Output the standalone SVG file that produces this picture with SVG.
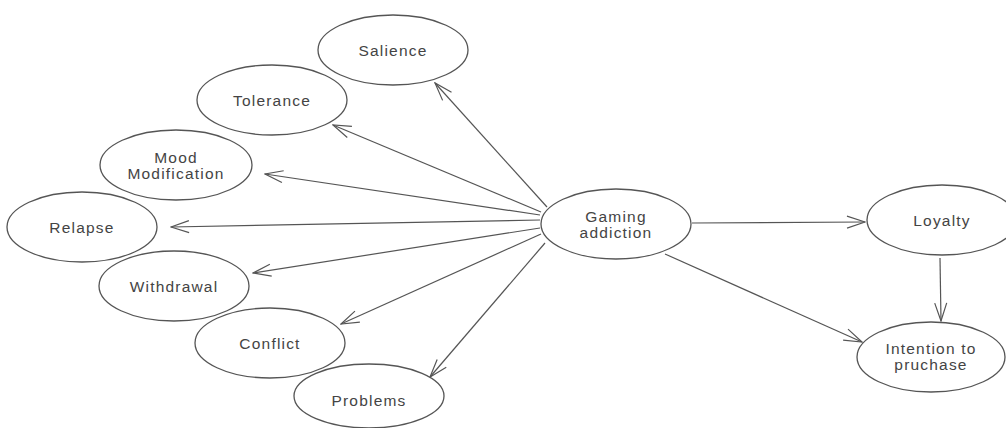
<svg xmlns="http://www.w3.org/2000/svg" width="1006" height="428" viewBox="0 0 1006 428">
<style>
.n ellipse{fill:#fff;stroke:#555;stroke-width:1.3}
.n text{font-family:"Liberation Sans",Arial,sans-serif;font-size:15.5px;letter-spacing:1.2px;fill:#444;text-anchor:middle}
.c line{stroke:#555;stroke-width:1.2;marker-end:url(#ah)}
</style>
<defs>
<marker id="ah" viewBox="0 0 20 14" refX="19" refY="7" markerWidth="20" markerHeight="14" markerUnits="userSpaceOnUse" orient="auto">
<path d="M1,1 L19,7 L1,13" fill="none" stroke="#555" stroke-width="1.2"/>
</marker>
</defs>
<rect width="1006" height="428" fill="#fff"/>
<g class="c">
<line x1="547" y1="207" x2="435" y2="83"/>
<line x1="541" y1="212" x2="333" y2="125"/>
<line x1="540" y1="215" x2="265" y2="174"/>
<line x1="540" y1="220" x2="171" y2="227"/>
<line x1="540" y1="228" x2="253" y2="273"/>
<line x1="541" y1="234" x2="341" y2="324"/>
<line x1="545" y1="243" x2="430" y2="377"/>
<line x1="692" y1="223" x2="865" y2="222"/>
<line x1="665" y1="254" x2="862" y2="342"/>
<line x1="940" y1="258" x2="941" y2="321"/>
</g>
<g id="salience" class="n"><ellipse cx="393" cy="50" rx="75" ry="35"/><text x="393" y="56">Salience</text></g>
<g id="tolerance" class="n"><ellipse cx="272" cy="100" rx="75" ry="35"/><text x="272" y="106">Tolerance</text></g>
<g id="mood" class="n"><ellipse cx="176" cy="165" rx="76" ry="35"/><text x="176" y="163">Mood</text><text x="176" y="179">Modification</text></g>
<g id="relapse" class="n"><ellipse cx="82" cy="227" rx="75" ry="35"/><text x="82" y="233">Relapse</text></g>
<g id="withdrawal" class="n"><ellipse cx="174" cy="286" rx="75" ry="35"/><text x="174" y="292">Withdrawal</text></g>
<g id="conflict" class="n"><ellipse cx="270" cy="343" rx="75" ry="35"/><text x="270" y="349">Conflict</text></g>
<g id="problems" class="n"><ellipse cx="369" cy="396" rx="75" ry="32"/><text x="369" y="406">Problems</text></g>
<g id="gaming" class="n"><ellipse cx="616" cy="224" rx="75" ry="35"/><text x="616" y="222">Gaming</text><text x="616" y="238">addiction</text></g>
<g id="loyalty" class="n"><ellipse cx="942" cy="220" rx="75" ry="35"/><text x="942" y="226">Loyalty</text></g>
<g id="intention" class="n"><ellipse cx="931" cy="357" rx="74" ry="35"/><text x="931" y="354">Intention to</text><text x="931" y="370">pruchase</text></g>
</svg>
